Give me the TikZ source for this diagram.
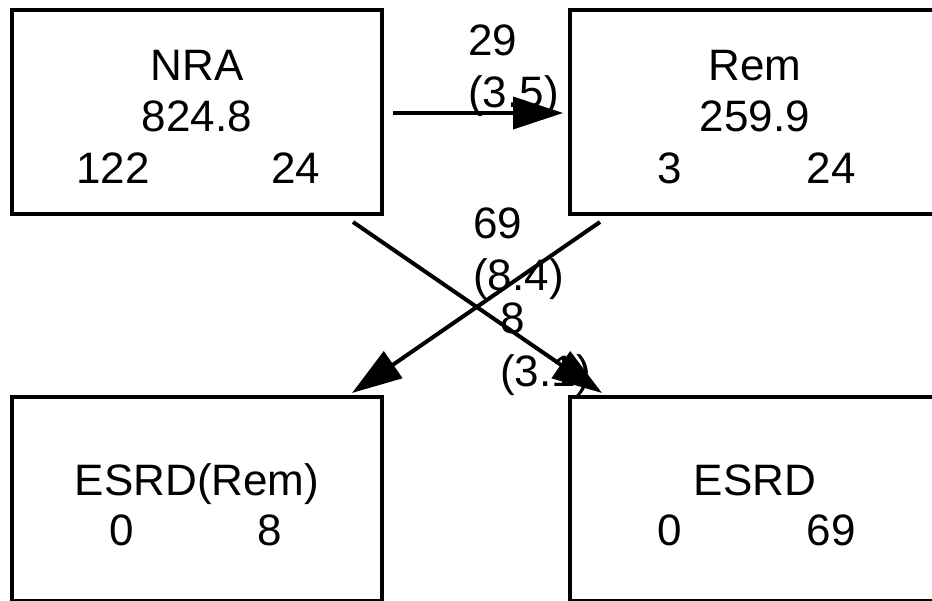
\documentclass[tikz,border=0pt]{standalone}
\usepackage{fontspec}
\setmainfont{Liberation Sans}
\usepackage{tikz}
\usetikzlibrary{arrows.meta,positioning}
\tikzset{
  statebox/.style={draw=black,line width=4pt,minimum width=370pt,
                   minimum height=204pt,inner sep=0pt},
  txt/.style={font=\fontsize{44}{52}\selectfont,inner sep=0pt,anchor=base},
  lbl/.style={font=\fontsize{44}{52}\selectfont,inner sep=0pt,anchor=base west},
  flow/.style={-{Triangle[length=50pt,width=32pt]},line width=4pt,draw=black}
}
\begin{document}
\begin{tikzpicture}[x=1pt,y=-1pt]
  \useasboundingbox (0,0) rectangle (932,600);
  \clip (0,0) rectangle (932,600);
  % boxes
  \node[statebox] (nra) at (197,112) {};
  \node[statebox] (rem) at (755,112) {};
  \node[statebox] (esrdrem) at (197,499) {};
  \node[statebox] (esrd) at (755,499) {};
  % box texts
  \node[txt] (nraname) at (197,80) {NRA};
  \node[txt] (nraval) at (197,131) {824.8};
  \node[txt] (nraa) at (113,183) {122};
  \node[txt] (nrab) at (296,183) {24};
  \node[txt] (remname) at (755,80) {Rem};
  \node[txt] (remval) at (755,131) {259.9};
  \node[txt] (rema) at (670,183) {3};
  \node[txt] (remb) at (831,183) {24};
  \node[txt] (esrdremname) at (197,495) {ESRD(Rem)};
  \node[txt] (esrdrema) at (122,545) {0};
  \node[txt] (esrdremb) at (270,545) {8};
  \node[txt] (esrdname) at (755,495) {ESRD};
  \node[txt] (esrda) at (670,545) {0};
  \node[txt] (esrdb) at (831,545) {69};
  % connector ends
  \coordinate (nraout) at (393,113);
  \coordinate (remin) at (563,113);
  \coordinate (nralow) at (353,222);
  \coordinate (esrdtop) at (602,393);
  \coordinate (remlow) at (600,222);
  \coordinate (esrdremtop) at (352,393);
  \draw[flow] (nraout) -- (remin);
  \draw[flow] (nralow) -- (esrdtop);
  \draw[flow] (remlow) -- (esrdremtop);
  % flow labels
  \node[lbl] (fa) at (468,55) {29};
  \node[lbl] (fb) at (468,107) {(3.5)};
  \node[lbl] (fc) at (473,238) {69};
  \node[lbl] (fd) at (473,290) {(8.4)};
  \node[lbl] (fe) at (500,333) {8};
  \node[lbl] (ff) at (500,386) {(3.1)};
\end{tikzpicture}
\end{document}
